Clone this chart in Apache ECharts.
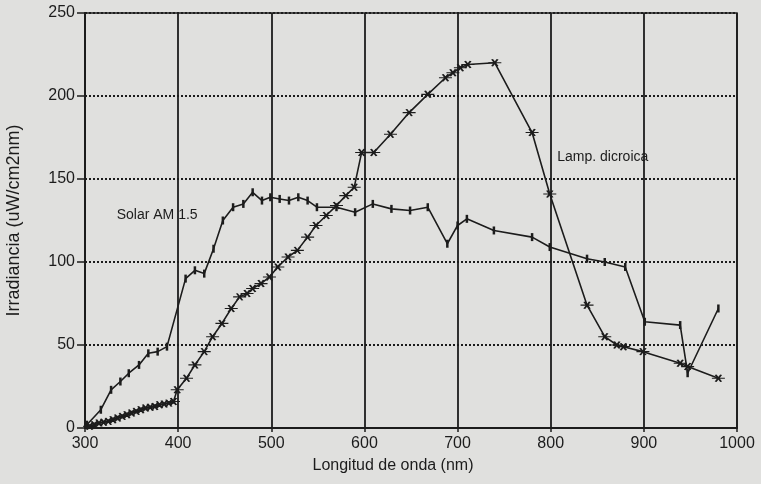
<!DOCTYPE html>
<html>
<head>
<meta charset="utf-8">
<script src="https://cdn.jsdelivr.net/npm/echarts@6/dist/echarts.min.js"></script>
<style>html,body{margin:0;padding:0;background:#e0e0de;}#c{width:761px;height:484px;}</style>
</head>
<body>
<div id="c"></div>
<script>
const xTicks = [300, 400, 500, 600, 700, 800, 900, 1000];
const yTicks = [0, 50, 100, 150, 200, 250];

const solarNm  = [302, 317, 328, 338, 347, 358, 368, 378, 388, 408, 418, 428, 438, 448, 459, 470, 480, 490, 499, 509, 519, 529, 539, 549, 570, 590, 609, 629, 649, 668, 689, 700, 710, 739, 780, 799, 839, 858, 880, 901, 939, 947, 980];
const solarVal = [2, 11, 23, 28, 33, 38, 45, 46, 49, 90, 95, 93, 108, 125, 133, 135, 142, 137, 139, 138, 137, 139, 137, 133, 133, 130, 135, 132, 131, 133, 111, 122, 126, 119, 115, 109, 102, 100, 97, 64, 62, 33, 72];

const lampNm  = [305, 310, 315, 320, 325, 330, 335, 340, 345, 350, 355, 360, 365, 370, 375, 380, 385, 390, 395, 399, 409, 418, 428, 437, 447, 457, 466, 474, 480, 489, 498, 507, 518, 528, 539, 548, 559, 570, 580, 589, 597, 610, 628, 648, 668, 687, 695, 703, 711, 740, 780, 799, 839, 858, 871, 878, 899, 939, 947, 980];
const lampVal = [1, 2, 3, 3.5, 4, 5, 6, 7, 8, 9, 10, 11, 12, 12.5, 13, 14, 14.5, 15, 16, 23, 30, 38, 46, 55, 63, 72, 79, 81, 84, 87, 91, 97, 103, 107, 115, 122, 128, 134, 140, 145, 166, 166, 177, 190, 201, 211, 214, 217, 219, 220, 178, 141, 74, 55, 50, 49, 46, 39, 37, 30];

const solarLabel = {text: 'Solar AM 1.5', nm: 334, val: 128};
const lampLabel = {text: 'Lamp. dicroica', nm: 807, val: 163};

const ink = '#1c1c1c';
const font = '"Liberation Sans", Arial, sans-serif';

function pairs(xs, ys) { return xs.map((x, i) => [x, ys[i]]); }

const chart = echarts.init(document.getElementById('c'), null, {renderer: 'canvas'});
chart.setOption({
  backgroundColor: '#e0e0de',
  animation: false,
  grid: {left: 85, right: 24, top: 13, bottom: 56, outerBoundsMode: 'none', containLabel: false, show: true, borderColor: ink, borderWidth: 1.5, backgroundColor: 'transparent'},
  xAxis: {
    type: 'value', min: xTicks[0], max: xTicks[xTicks.length - 1], interval: 100,
    name: 'Longitud de onda (nm)', nameLocation: 'middle', nameGap: 30,
    nameTextStyle: {color: ink, fontFamily: font, fontSize: 16, padding: [0, 36, 0, 0]},
    axisLine: {lineStyle: {color: ink, width: 2}},
    axisTick: {show: true, length: 4, lineStyle: {color: ink, width: 1.5}},
    axisLabel: {color: ink, fontFamily: font, fontSize: 16, margin: 8, formatter: v => String(v)},
    splitLine: {show: true, lineStyle: {color: ink, width: 1.8, type: 'solid'}}
  },
  yAxis: {
    type: 'value', min: yTicks[0], max: yTicks[yTicks.length - 1], interval: 50,
    name: 'Irradiancia (uW/cm2nm)', nameLocation: 'middle', nameGap: 62,
    nameTextStyle: {color: ink, fontFamily: font, fontSize: 18},
    axisLine: {lineStyle: {color: ink, width: 2}},
    axisTick: {show: true, length: 8, lineStyle: {color: ink, width: 1.5}},
    axisLabel: {color: ink, fontFamily: font, fontSize: 16, margin: 10, formatter: v => String(v)},
    splitLine: {show: true, lineStyle: {color: ink, width: 2, type: [2, 2]}}
  },
  series: [
    {
      name: 'Solar AM 1.5', type: 'line', data: pairs(solarNm, solarVal),
      lineStyle: {color: ink, width: 1.6},
      symbol: 'rect', symbolSize: [2.5, 8],
      itemStyle: {color: ink},
      markPoint: {
        symbol: 'circle', symbolSize: 0,
        label: {show: true, position: 'right', distance: 0, formatter: solarLabel.text, color: ink, fontFamily: font, fontSize: 14},
        data: [{coord: [solarLabel.nm, solarLabel.val]}]
      }
    },
    {
      name: 'Lamp. dicroica', type: 'line', data: pairs(lampNm, lampVal),
      lineStyle: {color: ink, width: 1.6},
      symbol: 'path://M0,5 L14,5 M4,1 L10,9 M10,1 L4,9', symbolSize: [13, 7],
      itemStyle: {color: 'none', borderColor: ink, borderWidth: 1.5},
      markPoint: {
        symbol: 'circle', symbolSize: 0,
        label: {show: true, position: 'right', distance: 0, formatter: lampLabel.text, color: ink, fontFamily: font, fontSize: 14},
        data: [{coord: [lampLabel.nm, lampLabel.val]}]
      }
    }
  ]
});
</script>
</body>
</html>
